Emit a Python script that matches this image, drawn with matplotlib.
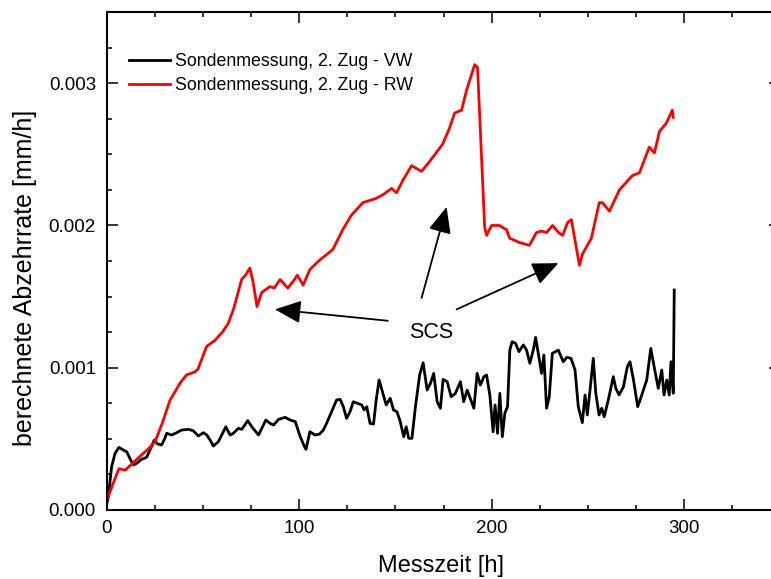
import matplotlib
matplotlib.use("Agg")
import matplotlib.pyplot as plt
from matplotlib.ticker import MultipleLocator

plt.rcParams['font.family'] = ['Liberation Sans', 'DejaVu Sans']

# Sondenmessung, 2. Zug - RW (rot)
rw_t = [0.5, 3, 6.2, 9.4, 15, 22.3, 25, 29, 32.7, 37.9, 41.4, 45.7, 47.3, 51.8, 56, 60,
        63, 66, 68, 70, 72, 74.3, 76, 78, 80.5, 84.7, 87, 90, 94, 97, 99, 102, 105.5,
        110, 117.4, 122.6, 127, 133, 140, 144, 148, 150.6, 154, 158.4, 163.6, 167.8,
        174.5, 178, 180.8, 184.4, 187, 191.2, 192.7, 196.4, 197.4, 200, 204, 207.8,
        209.4, 214.5, 219.7, 223.3, 225.9, 228.6, 231.7, 234.8, 237, 239.5, 241.5,
        245.7, 247.3, 251.9, 256, 257.7, 261.3, 266.5, 273.2, 276.9, 282, 284.7,
        287.3, 290.9, 294, 294.5]
rw_v = [0.00009, 0.00018, 0.00029, 0.00028, 0.00035, 0.00044, 0.00048, 0.00062,
        0.00077, 0.00089, 0.00095, 0.00097, 0.00099, 0.00115, 0.00119, 0.00125,
        0.00131, 0.00142, 0.00152, 0.00162, 0.00165, 0.00170, 0.00160, 0.00143,
        0.00153, 0.00157, 0.00156, 0.00162, 0.00156, 0.00161, 0.00165, 0.00158,
        0.00169, 0.00175, 0.00183, 0.00197, 0.00207, 0.00216, 0.00219, 0.00222,
        0.00226, 0.00223, 0.00232, 0.00242, 0.00238, 0.00245, 0.00257, 0.00268,
        0.00279, 0.00281, 0.00295, 0.00313, 0.00311, 0.00199, 0.00193, 0.00200,
        0.00200, 0.00197, 0.00191, 0.00188, 0.00186, 0.00195, 0.00196, 0.00195,
        0.00200, 0.00195, 0.00193, 0.00202, 0.00204, 0.00172, 0.00180, 0.00191,
        0.00216, 0.00216, 0.00210, 0.00225, 0.00235, 0.00237, 0.00255, 0.00251,
        0.00266, 0.00272, 0.00281, 0.00276]

# Sondenmessung, 2. Zug - VW (schwarz)
vw_t = [0, 0.7, 2.4, 4.2, 6.2, 8.4, 10.2, 11.9, 13.7, 15.4, 18, 20.6, 22.3, 24.6, 26.3,
        28.4, 30.1, 31, 33.6, 36.2, 38.8, 42.3, 44.9, 47.5, 50.1, 51.9, 53.6, 55.3,
        57.9, 60.5, 61.8, 64, 65.7, 68.3, 70.1, 73.2, 75.3, 78.8, 80.5, 82.6, 84.8,
        86.6, 89.2, 92.7, 95.3, 97.9, 100.5, 102.7, 103.5, 105.5, 108.2, 110.6, 112.5,
        114.2, 116.8, 119.4, 121.2, 122.9, 124.6, 126.4, 128.1, 130.2, 132.5, 133.7,
        135.1, 136.8, 138.6, 140, 141.5, 143.5, 145.2, 147.3, 149, 150.8, 152.5,
        154.3, 155.6, 156.9, 158.6, 160.4, 162.6, 164.4, 166.5, 168.2, 169.9, 171.7,
        173.4, 174.8, 176.9, 179, 181.2, 183.8, 185.5, 187.3, 190.8, 192.5, 194.2,
        196, 197.4, 199.1, 200.8, 201.8, 203.1, 204.3, 205.6, 206.9, 208.3, 209.5,
        210.7, 212.5, 214.2, 216.5, 218.2, 219.9, 221.7, 222.9, 224.3, 226, 227.2,
        228.6, 230, 231.6, 234.7, 237.3, 239.1, 241.3, 243.4, 245.1, 247.2, 248.6,
        249.8, 251.2, 252.9, 254.2, 255.9, 257.3, 258.6, 260.7, 263.3, 264.6, 266.3,
        268.6, 270.6, 272, 273.8, 276, 278.1, 280.7, 282.8, 284.7, 286.7, 288.5,
        289.7, 291.1, 292.4, 293.3, 294.5, 295]
vw_v = [0.00005, 0.000094, 0.000304, 0.000398, 0.00044, 0.000422, 0.00041, 0.000363,
        0.000316, 0.000328, 0.000356, 0.00037, 0.00042, 0.000492, 0.000464, 0.000457,
        0.000504, 0.000539, 0.000527, 0.000543, 0.000562, 0.000567, 0.000557, 0.00052,
        0.000543, 0.000527, 0.000492, 0.00045, 0.00048, 0.00055, 0.000585, 0.000527,
        0.000539, 0.000574, 0.000567, 0.000628, 0.000585, 0.000527, 0.000574,
        0.000632, 0.000609, 0.000597, 0.000637, 0.000651, 0.000632, 0.000621,
        0.000515, 0.000445, 0.000426, 0.00055, 0.000527, 0.000534, 0.000562,
        0.000609, 0.000691, 0.000773, 0.000778, 0.000726, 0.000644, 0.000691,
        0.000761, 0.00075, 0.000738, 0.000703, 0.000726, 0.000609, 0.000604,
        0.000773, 0.000914, 0.00082, 0.000738, 0.000785, 0.000703, 0.000691,
        0.000621, 0.000515, 0.000585, 0.000504, 0.000504, 0.000726, 0.000949,
        0.001035, 0.000843, 0.00089, 0.00096, 0.000761, 0.000715, 0.000918,
        0.000902, 0.000796, 0.00082, 0.000902, 0.000761, 0.000843, 0.000715,
        0.00096, 0.000878, 0.000937, 0.000949, 0.000808, 0.00055, 0.000738,
        0.000539, 0.00082, 0.000515, 0.00068, 0.000726, 0.001124, 0.001183,
        0.001171, 0.001113, 0.00116, 0.001124, 0.001031, 0.001124, 0.001213,
        0.001101, 0.00096, 0.001089, 0.000715, 0.000796, 0.001101, 0.001124,
        0.001042, 0.001073, 0.001066, 0.000984, 0.000726, 0.000614, 0.000808,
        0.000668, 0.000843, 0.001066, 0.00082, 0.000668, 0.000715, 0.000656,
        0.000773, 0.000937, 0.000855, 0.000808, 0.000867, 0.001007, 0.001042,
        0.000914, 0.000726, 0.000808, 0.000914, 0.001136, 0.000996, 0.000855,
        0.000984, 0.000808, 0.000914, 0.000808, 0.001042, 0.00082, 0.001546]

# Pfeile SCS: (Start, Ziel)
pfeile = [((146, 0.00133), (87.3, 0.00141)),
          ((163.6, 0.00149), (176.6, 0.00213)),
          ((181.8, 0.00141), (234.8, 0.001735))]

fig = plt.figure(figsize=(7.71, 5.79), dpi=100)
ax = fig.add_axes([107/771, 69/579, 673/771, 498/579])

ax.plot(vw_t, vw_v, color='black', lw=2, label='Sondenmessung, 2. Zug - VW')
ax.plot(rw_t, rw_v, color='red', lw=2, label='Sondenmessung, 2. Zug - RW')

ax.set_xlim(0, 350)
ax.set_ylim(0, 0.0035)
ax.xaxis.set_major_locator(MultipleLocator(100))
ax.xaxis.set_minor_locator(MultipleLocator(25))
ax.yaxis.set_major_locator(MultipleLocator(0.001))
ax.yaxis.set_minor_locator(MultipleLocator(0.00025))
ax.yaxis.set_major_formatter(plt.FormatStrFormatter('%.3f'))
ax.tick_params(which='both', direction='in', top=True, right=True, width=1.1)
ax.tick_params(which='major', length=8)
ax.tick_params(which='minor', length=3.8)
ax.tick_params(axis='x', labelsize=13.5, pad=7)
ax.tick_params(axis='y', labelsize=13.5, pad=8)
for s in ax.spines.values():
    s.set_linewidth(1.5)

ax.set_xlabel('Messzeit [h]', fontsize=17)
ax.set_ylabel('berechnete Abzehrrate [mm/h]', fontsize=18)
ax.xaxis.set_label_coords(0.497, -0.09)
ax.yaxis.set_label_coords(-0.104, 0.467)

for (x0, y0), (x1, y1) in pfeile:
    ax.annotate('', xy=(x1, y1), xytext=(x0, y0),
                arrowprops=dict(arrowstyle='-|>,head_length=0.8,head_width=0.35',
                                color='black', lw=1.3, mutation_scale=20,
                                shrinkA=0, shrinkB=0))
ax.text(168.8, 0.001245, 'SCS', fontsize=15.5, ha='center', va='center')

ax.legend(loc='upper left', bbox_to_anchor=(0.0327, 0.918), frameon=False,
          fontsize=12.8, handlelength=2.3, handletextpad=0.3, labelspacing=0.4,
          borderpad=0, borderaxespad=0)

fig.savefig('out.png', dpi=100)
